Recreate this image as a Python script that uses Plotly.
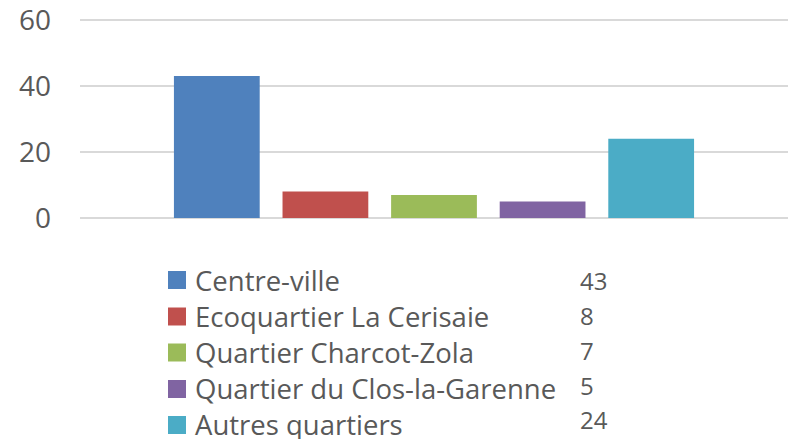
import plotly.graph_objects as go

# Nombre de réponses par quartier
categories = ["Centre-ville", "Ecoquartier La Cerisaie", "Quartier Charcot-Zola",
              "Quartier du Clos-la-Garenne", "Autres quartiers"]
values = [43, 8, 7, 5, 24]
colors = ["#4f81bd", "#c0504d", "#9bbb59", "#8064a2", "#4bacc6"]
y_ticks = [0, 20, 40, 60]

W, H = 788, 439
L, R, T, B = 80, 0, 12, 221
plot_w = W - L - R
plot_h = H - T - B
PX_PER_UNIT = 3.3  # vertical pixels per response
y_top = plot_h / PX_PER_UNIT

FONT = "Open Sans"
GREY = "#595959"

fig = go.Figure(
    go.Bar(
        x=categories,
        y=values,
        marker=dict(color=colors, line=dict(width=0)),
        showlegend=False,
        hoverinfo="x+y",
    )
)


def px_x(px):
    return (px - L) / plot_w


def px_y(py):
    return (H - B - py) / plot_h


# Legend table below the chart: colour key, label, value
shapes = []
annotations = []
row_y = [280, 316.5, 352.5, 389, 425]
val_y = [280.5, 315.5, 350.5, 385.5, 419.5]
for i, (cat, val, col) in enumerate(zip(categories, values, colors)):
    cy = row_y[i]
    shapes.append(dict(
        type="rect", xref="paper", yref="paper",
        x0=px_x(168), x1=px_x(186), y0=px_y(cy + 9), y1=px_y(cy - 9),
        fillcolor=col, line=dict(width=0),
    ))
    annotations.append(dict(
        xref="paper", yref="paper", x=px_x(193), y=px_y(cy),
        xanchor="left", yanchor="middle", text=cat, showarrow=False,
        font=dict(family=FONT, size=27.5, color=GREY),
    ))
    annotations.append(dict(
        xref="paper", yref="paper", x=px_x(578), y=px_y(val_y[i]),
        xanchor="left", yanchor="middle", text=str(val), showarrow=False,
        font=dict(family=FONT, size=24, color=GREY),
    ))

fig.update_layout(
    width=W, height=H,
    margin=dict(l=L, r=R, t=T, b=B, pad=0),
    paper_bgcolor="white", plot_bgcolor="white",
    bargap=0.21,
    xaxis=dict(
        range=[-1.26, 5.26], showticklabels=False, showgrid=False,
        zeroline=False, showline=False, fixedrange=True,
    ),
    yaxis=dict(
        range=[0, y_top], tickvals=y_ticks, showgrid=True, gridcolor="#d9d9d9",
        gridwidth=2, zeroline=True, zerolinecolor="#d9d9d9", zerolinewidth=2,
        showline=False, ticks="", ticklabelstandoff=28,
        ticklabeloverflow="allow",
        tickfont=dict(family=FONT, size=28, color=GREY), fixedrange=True,
    ),
    shapes=shapes,
    annotations=annotations,
)

fig.write_html("out.html")
